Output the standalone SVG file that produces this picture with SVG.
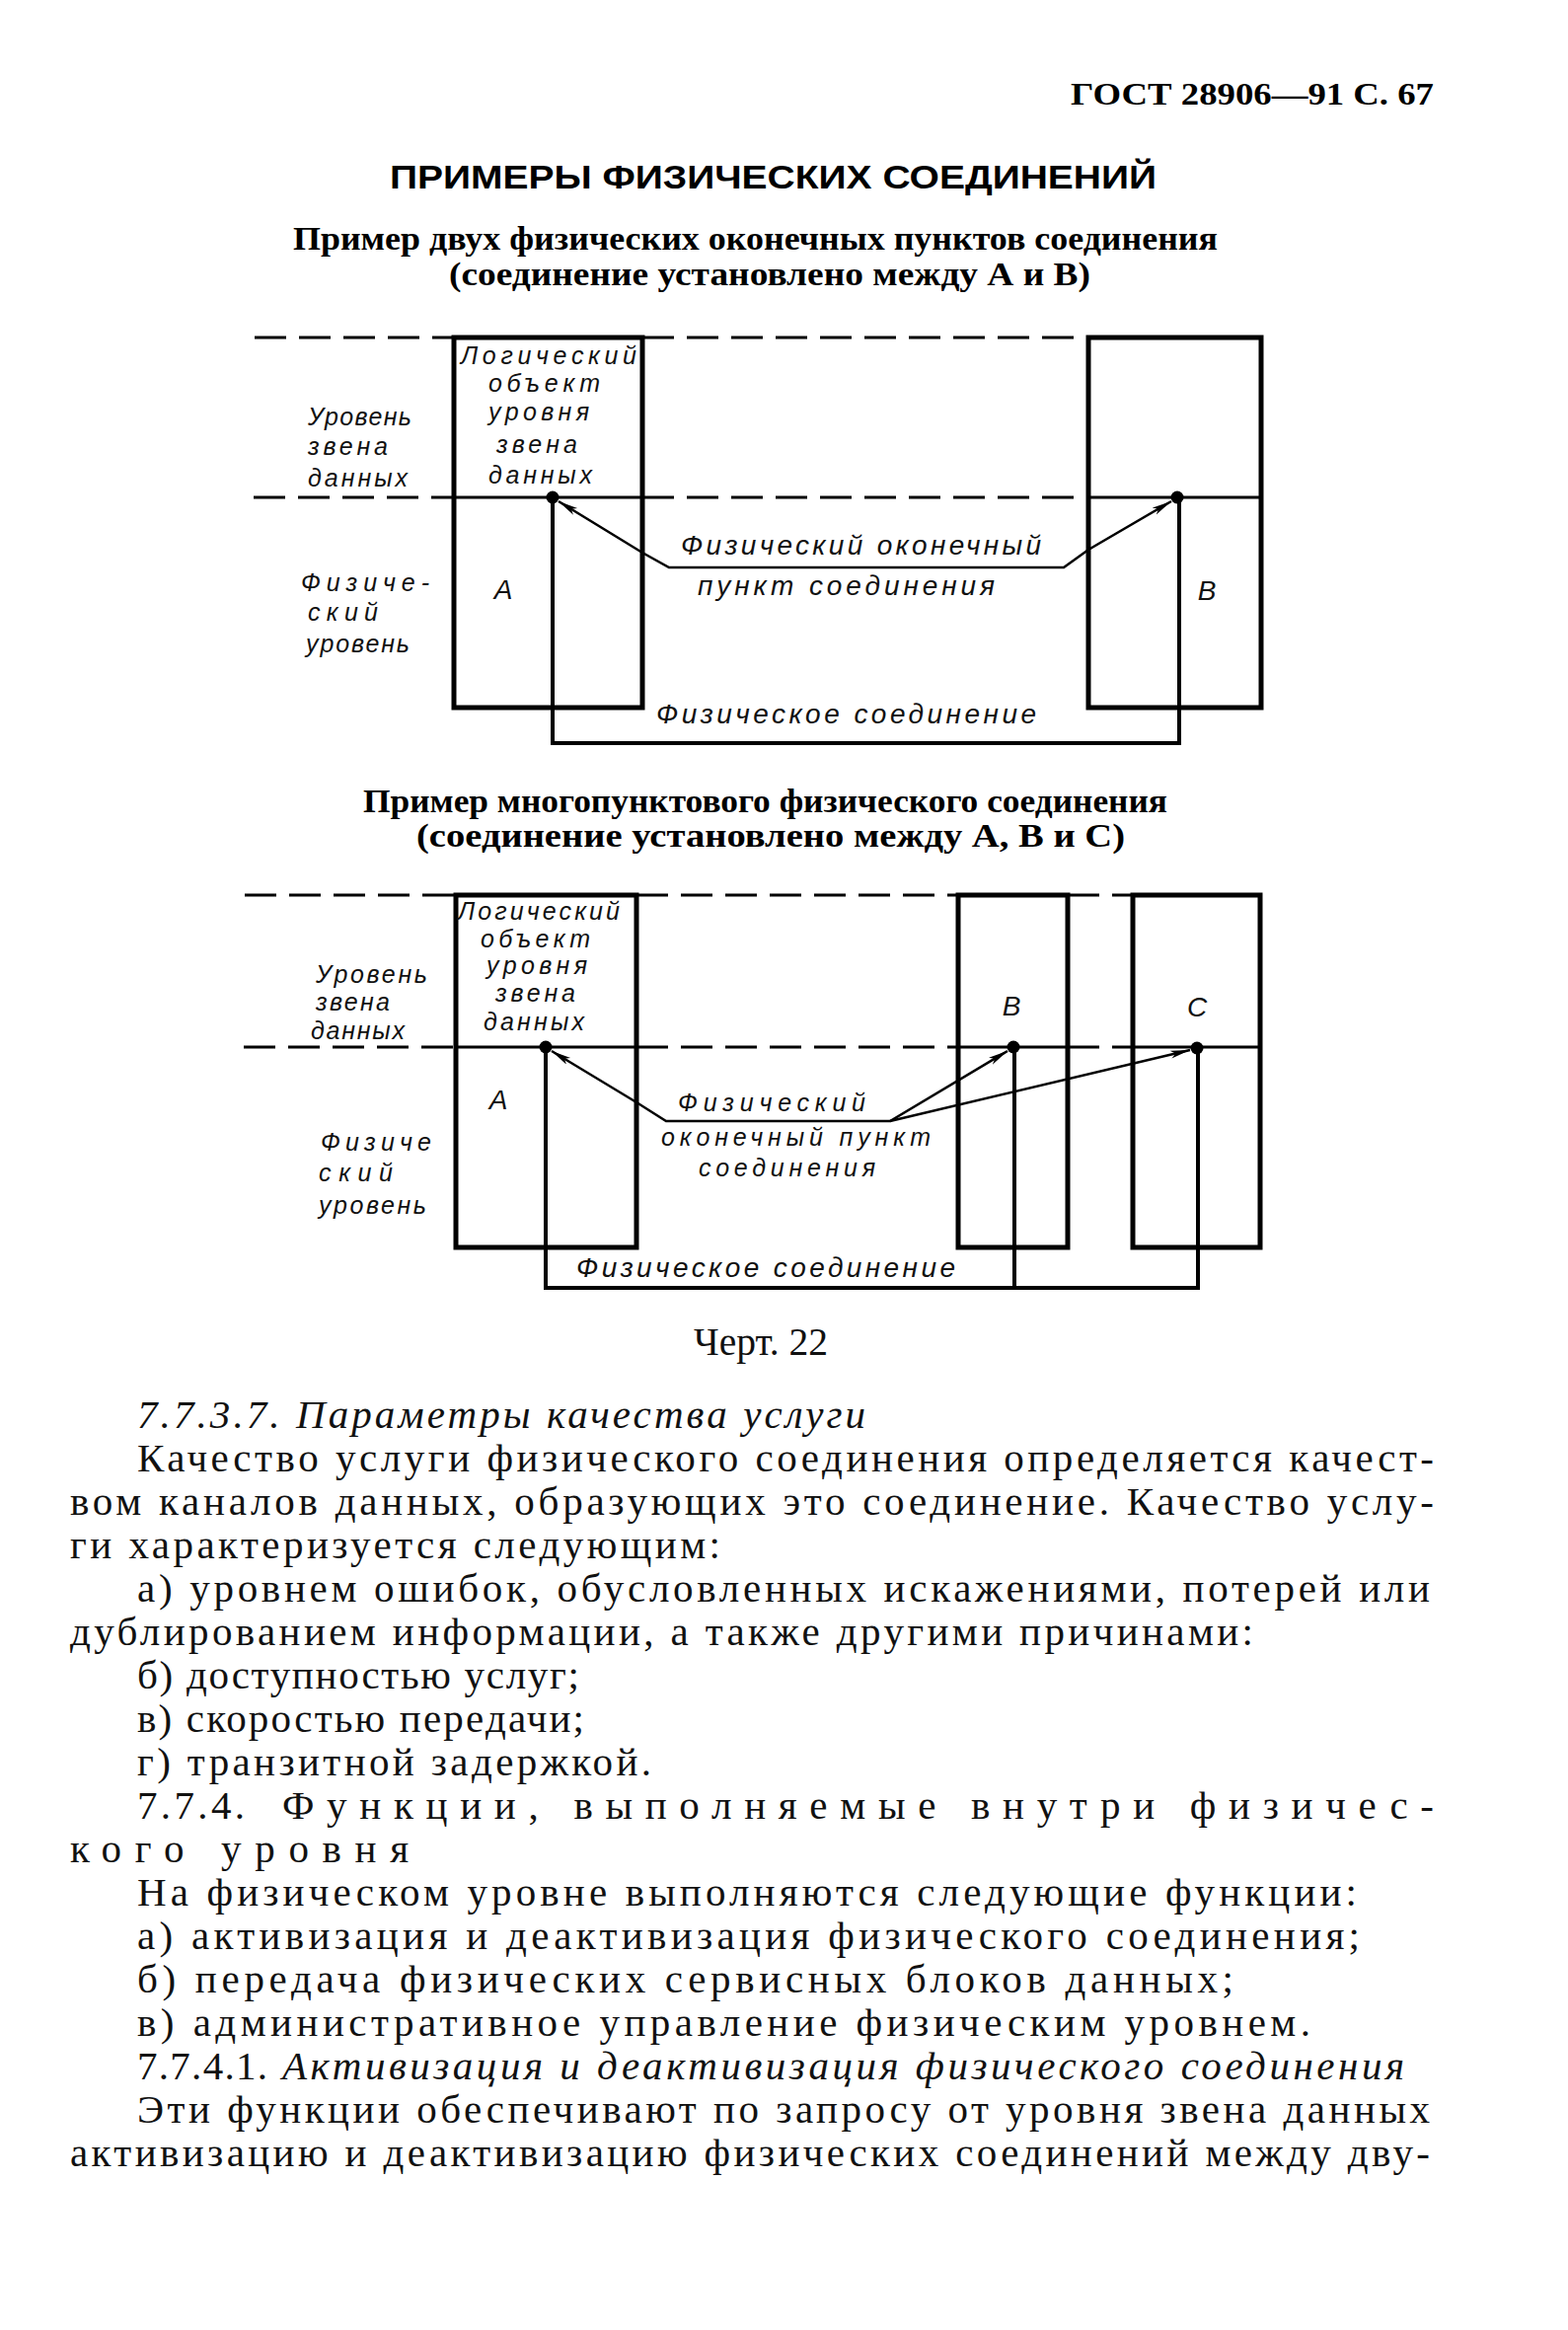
<svg xmlns="http://www.w3.org/2000/svg" width="1589" height="2361" viewBox="0 0 1589 2361">
<style>
.hd{font-family:"Liberation Serif",serif;font-weight:bold;fill:#000}
.ttl{font-family:"Liberation Sans",sans-serif;font-weight:bold;fill:#000}
.hw{font-family:"Liberation Sans",sans-serif;font-style:italic;font-size:28px;fill:#111}
.sm{font-size:25px}
.bd{font-family:"Liberation Serif",serif;font-size:41px;fill:#111}
.it{font-style:italic}
.box{fill:none;stroke:#000;stroke-width:5}
.dash{stroke:#000;stroke-width:3;stroke-dasharray:32 13;fill:none}
.sol{stroke:#000;stroke-width:3;fill:none}
.conn{stroke:#000;stroke-width:4;fill:none}
.lead{stroke:#000;stroke-width:2.5;fill:none;marker-end:url(#ah)}
</style>
<defs>
<marker id="ah" markerUnits="userSpaceOnUse" markerWidth="22" markerHeight="10" refX="20" refY="4" orient="auto-start-reverse">
<path d="M0,0 L20,4 L0,8 L5,4 z" fill="#000"/>
</marker>
</defs>
<rect width="1589" height="2361" fill="#fff"/>

<g id="header">
<text class="hd" x="1085" y="106" font-size="32" textLength="368" lengthAdjust="spacingAndGlyphs">ГОСТ 28906—91 С. 67</text>
<text class="ttl" x="395" y="191" font-size="33" textLength="777" lengthAdjust="spacingAndGlyphs">ПРИМЕРЫ ФИЗИЧЕСКИХ СОЕДИНЕНИЙ</text>
<text class="hd" x="297" y="253" font-size="34" textLength="937" lengthAdjust="spacingAndGlyphs">Пример двух физических оконечных пунктов соединения</text>
<text class="hd" x="455" y="289" font-size="34" textLength="650" lengthAdjust="spacingAndGlyphs">(соединение установлено между А и В)</text>
</g>

<!-- Diagram 1 -->
<g id="d1-levels">
<line class="dash" x1="258" y1="342" x2="460" y2="342"/>
<line class="dash" x1="651" y1="342" x2="1103" y2="342"/>
<line class="dash" x1="257" y1="504" x2="460" y2="504"/>
<line class="sol" x1="460" y1="504" x2="651" y2="504"/>
<line class="dash" x1="651" y1="504" x2="1103" y2="504"/>
<line class="sol" x1="1103" y1="504" x2="1278" y2="504"/>
<text class="hw sm" x="312" y="431" textLength="105" lengthAdjust="spacing">Уровень</text>
<text class="hw sm" x="312" y="461" textLength="81" lengthAdjust="spacing">звена</text>
<text class="hw sm" x="312" y="493" textLength="101" lengthAdjust="spacing">данных</text>
<text class="hw sm" x="305" y="599" textLength="130" lengthAdjust="spacing">Физиче-</text>
<text class="hw sm" x="312" y="629" textLength="71" lengthAdjust="spacing">ский</text>
<text class="hw sm" x="310" y="661" textLength="105" lengthAdjust="spacing">уровень</text>
</g>
<g id="d1-nodeA">
<rect class="box" x="460" y="342" width="191" height="375"/>
<text class="hw sm" x="467" y="369" textLength="178" lengthAdjust="spacing">Логический</text>
<text class="hw sm" x="495" y="397" textLength="113" lengthAdjust="spacing">объект</text>
<text class="hw sm" x="495" y="426" textLength="102" lengthAdjust="spacing">уровня</text>
<text class="hw sm" x="503" y="459" textLength="82" lengthAdjust="spacing">звена</text>
<text class="hw sm" x="495" y="490" textLength="105" lengthAdjust="spacing">данных</text>
<text class="hw" x="510" y="607" text-anchor="middle">А</text>
<circle cx="560" cy="504" r="6.5" fill="#000"/>
</g>
<g id="d1-nodeB">
<rect class="box" x="1103" y="342" width="175" height="375"/>
<text class="hw" x="1223" y="608" text-anchor="middle">В</text>
<circle cx="1193" cy="504" r="6.5" fill="#000"/>
</g>
<g id="d1-connectors">
<path class="conn" d="M560,504 V753 H1195 V504"/>
<path class="lead" style="marker-start:url(#ah)" d="M566,508 L651,560 L678,575 H1078 L1103,557 L1187,508"/>
<text class="hw" x="690" y="562" textLength="365" lengthAdjust="spacing">Физический оконечный</text>
<text class="hw" x="707" y="603" textLength="301" lengthAdjust="spacing">пункт соединения</text>
<text class="hw" x="665" y="733" textLength="385" lengthAdjust="spacing">Физическое соединение</text>
</g>

<g id="header2">
<text class="hd" x="368" y="823" font-size="34" textLength="815" lengthAdjust="spacingAndGlyphs">Пример многопунктового физического соединения</text>
<text class="hd" x="422" y="858" font-size="34" textLength="718" lengthAdjust="spacingAndGlyphs">(соединение установлено между А, В и С)</text>
</g>

<!-- Diagram 2 -->
<g id="d2-levels">
<line class="dash" x1="248" y1="907" x2="462" y2="907"/>
<line class="dash" x1="645" y1="907" x2="971" y2="907"/>
<line class="dash" x1="1082" y1="907" x2="1148" y2="907"/>
<line class="dash" x1="247" y1="1061" x2="462" y2="1061"/>
<line class="sol" x1="462" y1="1061" x2="645" y2="1061"/>
<line class="dash" x1="645" y1="1061" x2="971" y2="1061"/>
<line class="sol" x1="971" y1="1061" x2="1082" y2="1061"/>
<line class="dash" x1="1082" y1="1061" x2="1148" y2="1061"/>
<line class="sol" x1="1148" y1="1061" x2="1277" y2="1061"/>
<text class="hw sm" x="320" y="996" textLength="113" lengthAdjust="spacing">Уровень</text>
<text class="hw sm" x="320" y="1024" textLength="75" lengthAdjust="spacing">звена</text>
<text class="hw sm" x="315" y="1053" textLength="95" lengthAdjust="spacing">данных</text>
<text class="hw sm" x="325" y="1166" textLength="112" lengthAdjust="spacing">Физиче</text>
<text class="hw sm" x="323" y="1197" textLength="75" lengthAdjust="spacing">ский</text>
<text class="hw sm" x="323" y="1230" textLength="109" lengthAdjust="spacing">уровень</text>
</g>
<g id="d2-nodeA">
<rect class="box" x="462" y="907" width="183" height="357"/>
<text class="hw sm" x="464" y="932" textLength="164" lengthAdjust="spacing">Логический</text>
<text class="hw sm" x="487" y="960" textLength="111" lengthAdjust="spacing">объект</text>
<text class="hw sm" x="493" y="987" textLength="102" lengthAdjust="spacing">уровня</text>
<text class="hw sm" x="502" y="1015" textLength="81" lengthAdjust="spacing">звена</text>
<text class="hw sm" x="490" y="1044" textLength="102" lengthAdjust="spacing">данных</text>
<text class="hw" x="505" y="1124" text-anchor="middle">А</text>
<circle cx="553" cy="1061" r="6.5" fill="#000"/>
</g>
<g id="d2-nodeB">
<rect class="box" x="971" y="907" width="111" height="357"/>
<text class="hw" x="1025" y="1029" text-anchor="middle">В</text>
<circle cx="1027" cy="1061" r="6.5" fill="#000"/>
</g>
<g id="d2-nodeC">
<rect class="box" x="1148" y="907" width="129" height="357"/>
<text class="hw" x="1213" y="1030" text-anchor="middle">С</text>
<circle cx="1213" cy="1062" r="6.5" fill="#000"/>
</g>
<g id="d2-connectors">
<path class="conn" d="M553,1061 V1305 H1214 V1062"/>
<line class="conn" x1="1028" y1="1061" x2="1028" y2="1305"/>
<path class="lead" style="marker-start:url(#ah)" d="M559,1065 L645,1117 L675,1136 H902 L1021,1065"/>
<path class="lead" d="M902,1136 L1206,1064"/>
<text class="hw sm" x="687" y="1126" textLength="190" lengthAdjust="spacing">Физический</text>
<text class="hw sm" x="670" y="1161" textLength="273" lengthAdjust="spacing">оконечный пункт</text>
<text class="hw sm" x="708" y="1192" textLength="179" lengthAdjust="spacing">соединения</text>
<text class="hw" x="584" y="1294" textLength="384" lengthAdjust="spacing">Физическое соединение</text>
</g>

<g id="body">
<text class="bd" x="703" y="1373" font-size="33" textLength="136" lengthAdjust="spacingAndGlyphs">Черт. 22</text>
<text class="bd it" x="139" y="1447" textLength="738" lengthAdjust="spacing">7.7.3.7. Параметры качества услуги</text>
<text class="bd" x="139" y="1491" textLength="1314" lengthAdjust="spacing">Качество услуги физического соединения определяется качест-</text>
<text class="bd" x="71" y="1535" textLength="1382" lengthAdjust="spacing">вом каналов данных, образующих это соединение. Качество услу-</text>
<text class="bd" x="71" y="1579" textLength="659" lengthAdjust="spacing">ги характеризуется следующим:</text>
<text class="bd" x="139" y="1623" textLength="1310" lengthAdjust="spacing">а) уровнем ошибок, обусловленных искажениями, потерей или</text>
<text class="bd" x="71" y="1667" textLength="1199" lengthAdjust="spacing">дублированием информации, а также другими причинами:</text>
<text class="bd" x="139" y="1711" textLength="448" lengthAdjust="spacing">б) доступностью услуг;</text>
<text class="bd" x="139" y="1755" textLength="453" lengthAdjust="spacing">в) скоростью передачи;</text>
<text class="bd" x="139" y="1799" textLength="521" lengthAdjust="spacing">г) транзитной задержкой.</text>
<text class="bd" x="139" y="1843" textLength="109" lengthAdjust="spacing">7.7.4.</text>
<text class="bd" x="286" y="1843" textLength="1167" lengthAdjust="spacing">Функции, выполняемые внутри физичес-</text>
<text class="bd" x="71" y="1887" textLength="343" lengthAdjust="spacing">кого уровня</text>
<text class="bd" x="139" y="1931" textLength="1236" lengthAdjust="spacing">На физическом уровне выполняются следующие функции:</text>
<text class="bd" x="139" y="1975" textLength="1239" lengthAdjust="spacing">а) активизация и деактивизация физического соединения;</text>
<text class="bd" x="139" y="2019" textLength="1111" lengthAdjust="spacing">б) передача физических сервисных блоков данных;</text>
<text class="bd" x="139" y="2063" textLength="1189" lengthAdjust="spacing">в) административное управление физическим уровнем.</text>
<text class="bd" x="139" y="2107" textLength="132" lengthAdjust="spacing">7.7.4.1.</text>
<text class="bd it" x="286" y="2107" textLength="1137" lengthAdjust="spacing">Активизация и деактивизация физического соединения</text>
<text class="bd" x="139" y="2151" textLength="1310" lengthAdjust="spacing">Эти функции обеспечивают по запросу от уровня звена данных</text>
<text class="bd" x="71" y="2195" textLength="1378" lengthAdjust="spacing">активизацию и деактивизацию физических соединений между дву-</text>
</g>
</svg>
